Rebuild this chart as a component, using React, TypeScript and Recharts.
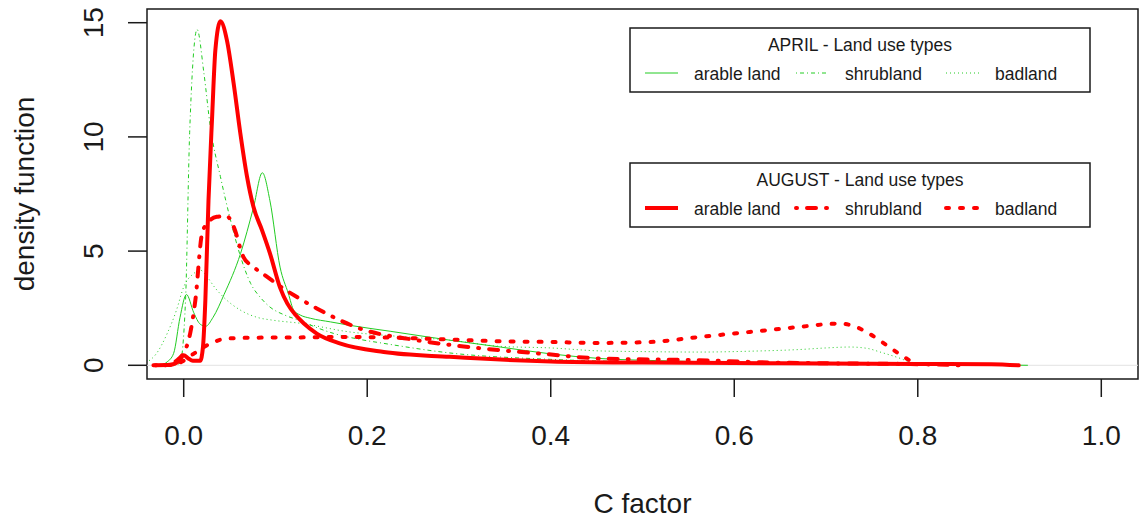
import { LineChart, Line, XAxis, YAxis, ReferenceLine, ReferenceArea, Legend, Label } from "recharts"

// density curves, [C factor, density]
const aprilArable = [
  [-0.03, 0], [-0.025, 0.02], [-0.018, 0.15], [-0.011, 0.52], [-0.004, 2.1], [0.003, 3.1], [0.011, 2.3],
  [0.018, 1.8], [0.024, 1.71], [0.032, 2.1], [0.044, 3.1], [0.062, 4.9], [0.076, 6.9], [0.0857, 8.43],
  [0.094, 7.2], [0.105, 4.3], [0.114, 3.15], [0.12, 2.4], [0.127, 2.2], [0.138, 2.06], [0.16, 1.9],
  [0.181, 1.75], [0.225, 1.49], [0.29, 1.1], [0.345, 0.8], [0.4, 0.5], [0.453, 0.3], [0.52, 0.2],
  [0.573, 0.15], [0.65, 0.08], [0.75, 0.05], [0.85, 0.03], [0.92, 0],
]
const aprilShrub = [
  [-0.01, 0], [-0.004, 0.1], [0.002, 2.85], [0.0065, 10.2], [0.0146, 14.7], [0.022, 12.8], [0.029, 10.45],
  [0.04, 8.26], [0.051, 6.36], [0.062, 4.75], [0.073, 3.58], [0.084, 2.95], [0.094, 2.55], [0.11, 2.2],
  [0.127, 1.95], [0.145, 1.65], [0.163, 1.4], [0.19, 1.15], [0.218, 0.96], [0.29, 0.54], [0.4, 0.26],
  [0.5, 0.15], [0.6, 0.1], [0.7, 0.06], [0.8, 0.02], [0.85, 0],
]
const aprilBad = [
  [-0.05, 0.05], [-0.04, 0.15], [-0.03, 0.5], [-0.018, 1.39], [-0.008, 2.4], [0, 3.43], [0.011, 4.02],
  [0.018, 4.17], [0.0255, 3.87], [0.034, 3.4], [0.043, 3.0], [0.062, 2.41], [0.08, 2.1], [0.098, 1.97],
  [0.127, 1.84], [0.181, 1.46], [0.23, 1.28], [0.29, 1.1], [0.345, 0.83], [0.4, 0.76], [0.453, 0.63],
  [0.5, 0.6], [0.562, 0.58], [0.62, 0.62], [0.671, 0.69], [0.7, 0.76], [0.726, 0.8], [0.745, 0.74],
  [0.759, 0.58], [0.781, 0.3], [0.795, 0.08], [0.81, 0],
]
const augustArable = [
  [-0.031, 0], [-0.015, 0.02], [-0.005, 0.2], [0, 0.44], [0.005, 0.3], [0.01, 0.2], [0.018, 0.2],
  [0.021, 0.8], [0.0236, 2.85], [0.027, 7.2], [0.031, 10.9], [0.0345, 13.8], [0.04, 15.06], [0.047, 14.25],
  [0.0544, 12.35], [0.0617, 10.16], [0.069, 8.26], [0.076, 6.94], [0.0853, 5.92], [0.094, 4.9],
  [0.105, 3.4], [0.113, 2.7], [0.122, 2.2], [0.131, 1.83], [0.145, 1.39], [0.17, 0.96], [0.218, 0.58],
  [0.29, 0.37], [0.4, 0.17], [0.5, 0.12], [0.6, 0.1], [0.7, 0.08], [0.8, 0.06], [0.88, 0.05], [0.91, 0],
]
const augustShrub = [
  [-0.02, 0], [-0.005, 0.3], [0.003, 0.8], [0.007, 1.39], [0.0127, 2.85], [0.02, 5.78], [0.0254, 6.2],
  [0.036, 6.5], [0.047, 6.53], [0.0544, 6.07], [0.065, 4.75], [0.076, 4.31], [0.091, 3.87], [0.109, 3.35],
  [0.123, 3.0], [0.145, 2.49], [0.192, 1.61], [0.254, 1.1], [0.327, 0.73], [0.392, 0.5], [0.453, 0.3],
  [0.562, 0.22], [0.642, 0.12], [0.72, 0.08], [0.8, 0.05], [0.85, 0],
]
const augustBad = [
  [-0.033, 0], [-0.011, 0.02], [0, 0.2], [0.011, 0.51], [0.029, 0.95], [0.047, 1.17], [0.08, 1.21],
  [0.123, 1.22], [0.18, 1.24], [0.29, 1.13], [0.345, 1.05], [0.4, 1.02], [0.453, 0.98], [0.508, 1.02],
  [0.562, 1.24], [0.617, 1.46], [0.671, 1.68], [0.7, 1.8], [0.715, 1.83], [0.73, 1.72], [0.744, 1.46],
  [0.758, 1.1], [0.769, 0.8], [0.782, 0.44], [0.795, 0.12], [0.8, 0],
]

const xTicks = [0, 0.2, 0.4, 0.6, 0.8, 1.0]
const yTicks = [0, 5, 10, 15]
const landUse = ["arable land", "shrubland", "badland"]

const FONT = '"Liberation Sans", Arial, sans-serif'
const GREEN = "#22cc22"
const RED = "#ff0000"
const INK = "#1a1a1a"

const thin = [undefined, "1 3 4 3", "1 3"]
const thick = [undefined, "1 10 9 10", "3 11"]

const series = [
  { key: "aprArable", data: aprilArable, stroke: GREEN, width: 1, dash: thin[0] },
  { key: "aprShrub", data: aprilShrub, stroke: GREEN, width: 1, dash: thin[1] },
  { key: "aprBad", data: aprilBad, stroke: GREEN, width: 1, dash: thin[2] },
  { key: "augBad", data: augustBad, stroke: RED, width: 4, dash: thick[2] },
  { key: "augShrub", data: augustShrub, stroke: RED, width: 4, dash: thick[1] },
  { key: "augArable", data: augustArable, stroke: RED, width: 4, dash: thick[0] },
]

const toPoints = (pairs: number[][]) => pairs.map(([x, y]) => ({ x, y }))

function XTick({ x, y, payload }: any) {
  return (
    <text x={x} y={y + 48} textAnchor="middle" fontSize={28} fontFamily={FONT} fill={INK}>
      {Number(payload.value).toFixed(1)}
    </text>
  )
}

function YTick({ x, y, payload }: any) {
  return (
    <text x={x - 25} y={y} transform={`rotate(-90, ${x - 25}, ${y})`} textAnchor="middle" fontSize={28} fontFamily={FONT} fill={INK}>
      {payload.value}
    </text>
  )
}

function LegendBoxes() {
  const groups = [
    { title: "APRIL - Land use types", top: 28, color: GREEN, width: 1, dashes: thin },
    { title: "AUGUST - Land use types", top: 163, color: RED, width: 4, dashes: thick },
  ]
  const cols = [645, 796, 946]
  return (
    <svg width={1139} height={240} style={{ display: "block" }}>
      {groups.map((g) => (
        <g key={g.title}>
          <rect x={630} y={g.top} width={460} height={64} fill="#fff" stroke={INK} strokeWidth={1.5} />
          <text x={860} y={g.top + 23} textAnchor="middle" fontSize={17.5} fontFamily={FONT} fill={INK}>
            {g.title}
          </text>
          {landUse.map((name, i) => (
            <g key={name}>
              <line
                x1={cols[i]}
                x2={cols[i] + 33}
                y1={g.top + 45}
                y2={g.top + 45}
                stroke={g.color}
                strokeWidth={g.width}
                strokeDasharray={g.dashes[i]}
                strokeLinecap={g.width > 1 && i > 0 ? "round" : "butt"}
              />
              <text x={cols[i] + 49} y={g.top + 52} fontSize={17.5} fontFamily={FONT} fill={INK}>
                {name}
              </text>
            </g>
          ))}
        </g>
      ))}
    </svg>
  )
}

export default function App() {
  return (
    <div style={{ position: "absolute", left: 0, top: 0, background: "#fff" }}>
      <LineChart width={1139} height={525} margin={{ top: 9, right: 1, bottom: 0, left: 0 }}>
        <XAxis
          type="number"
          dataKey="x"
          domain={[-0.04, 1.04]}
          ticks={xTicks}
          interval={0}
          allowDataOverflow
          height={146}
          tickSize={18}
          tickMargin={0}
          axisLine={false}
          tickLine={{ stroke: INK, strokeWidth: 1.5 }}
          tick={<XTick />}
        >
          <Label
            content={({ viewBox }: any) => (
              <text x={viewBox.x + viewBox.width / 2} y={viewBox.y + 134} textAnchor="middle" fontSize={28} fontFamily={FONT} fill={INK}>
                C factor
              </text>
            )}
          />
        </XAxis>
        <YAxis
          type="number"
          dataKey="y"
          domain={[-0.6, 15.6]}
          ticks={yTicks}
          interval={0}
          allowDataOverflow
          width={147}
          tickSize={19}
          tickMargin={0}
          axisLine={false}
          tickLine={{ stroke: INK, strokeWidth: 1.5 }}
          tick={<YTick />}
        >
          <Label
            content={({ viewBox }: any) => {
              const cy = viewBox.y + viewBox.height / 2
              return (
                <text x={34} y={cy} transform={`rotate(-90, 34, ${cy})`} textAnchor="middle" fontSize={28} fontFamily={FONT} fill={INK}>
                  density function
                </text>
              )
            }}
          />
        </YAxis>
        <ReferenceLine y={0} stroke="#e2e2e2" strokeWidth={1} />
        {series.map((s) => (
          <Line
            key={s.key}
            data={toPoints(s.data)}
            dataKey="y"
            type="monotone"
            stroke={s.stroke}
            strokeWidth={s.width}
            strokeDasharray={s.dash}
            strokeLinecap={s.width > 1 ? "round" : "butt"}
            strokeLinejoin="round"
            dot={false}
            activeDot={false}
            isAnimationActive={false}
          />
        ))}
        <ReferenceArea x1={-0.04} x2={1.04} y1={-0.6} y2={15.6} fill="none" stroke={INK} strokeWidth={1.5} ifOverflow="visible" />
        <Legend
          layout="horizontal"
          verticalAlign="middle"
          align="center"
          content={<LegendBoxes />}
          wrapperStyle={{ position: "absolute", left: 0, top: 0, width: 1139, height: 240, pointerEvents: "none" }}
        />
      </LineChart>
    </div>
  )
}
